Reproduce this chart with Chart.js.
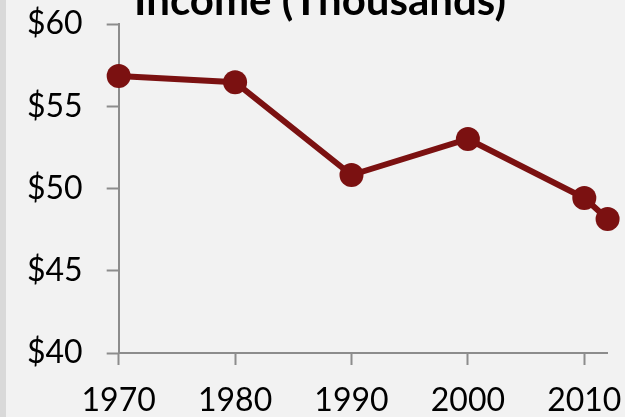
<!DOCTYPE html>
<html>
<head>
<meta charset="utf-8">
<script src="https://cdn.jsdelivr.net/npm/chart.js@4"></script>
<style>
  html, body {
    margin: 0;
    padding: 0;
    width: 625px;
    height: 417px;
    overflow: hidden;
    background: #f2f2f2;
  }
  body { border-left: 6px solid #d9d9d9; box-sizing: border-box; }
  /* el lienzo es algo mayor que la ventana: el título queda cortado arriba */
  #wrap {
    position: absolute;
    left: 0;
    top: -40px;
    width: 642px;
    height: 477px;
  }
</style>
</head>
<body>
<div id="wrap"><canvas id="incomeChart"></canvas></div>
<script>
// =========================
// DATOS
// =========================
const years = [1970, 1980, 1990, 2000, 2010, 2012];
const income = [56.84, 56.46, 50.82, 53.01, 49.42, 48.15];
const xTickValues = [1970, 1980, 1990, 2000, 2010];
const yTickValues = [40, 45, 50, 55, 60];
const chartTitle = "Income (Thousands)";

document.addEventListener("DOMContentLoaded", () => {
  const ctx = document.getElementById("incomeChart").getContext("2d");
  const lineColor = "#7b1111";
  const axisColor = "#8c8c8c";
  const tickFont = { family: "Lato, sans-serif", size: 32, lineHeight: 1 };

  new Chart(ctx, {
    type: "line",
    data: {
      datasets: [{
        label: chartTitle,
        data: years.map((y, i) => ({ x: y, y: income[i] })),
        borderColor: lineColor,
        backgroundColor: lineColor,
        borderWidth: 6,
        pointRadius: 12,
        pointBorderWidth: 0,
        pointBackgroundColor: lineColor,
        tension: 0,
        clip: false
      }]
    },
    options: {
      responsive: true,
      maintainAspectRatio: false,
      animation: false,
      layout: { padding: { left: 3, right: 5, top: 0, bottom: 0 } },
      scales: {
        x: {
          type: "linear",
          min: 1970,
          max: 2012,
          afterBuildTicks: (scale) => {
            scale.ticks = xTickValues.map(v => ({ value: v }));
          },
          ticks: {
            color: "#000",
            font: tickFont,
            padding: 20,
            maxRotation: 0,
            callback: (v) => String(v)
          },
          grid: {
            drawOnChartArea: false,
            drawTicks: true,
            tickLength: 12,
            tickWidth: 2,
            color: axisColor
          },
          border: { color: axisColor, width: 2 }
        },
        y: {
          min: 40,
          max: 60,
          afterBuildTicks: (scale) => {
            scale.ticks = yTickValues.map(v => ({ value: v }));
          },
          ticks: {
            color: "#000",
            font: tickFont,
            padding: 24,
            callback: (v) => "$" + v
          },
          grid: {
            drawOnChartArea: false,
            drawTicks: true,
            tickLength: 12,
            tickWidth: 2,
            color: axisColor
          },
          border: { color: axisColor, width: 2 }
        }
      },
      plugins: {
        legend: { display: false },
        tooltip: { enabled: false },
        title: {
          display: true,
          text: chartTitle,
          color: "#000",
          font: { family: "Lato, sans-serif", size: 42, weight: "bold", lineHeight: 1 },
          padding: { top: 20, bottom: 2 }
        }
      }
    }
  });
});
</script>
</body>
</html>
